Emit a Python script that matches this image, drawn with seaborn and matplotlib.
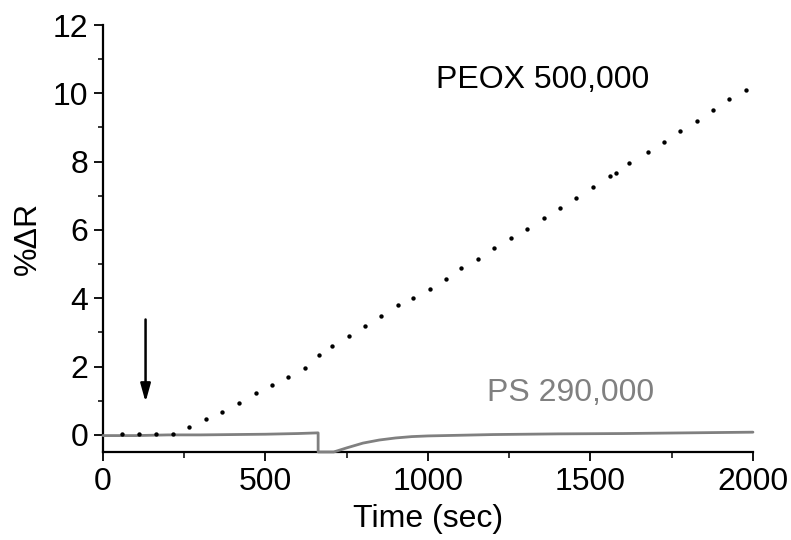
import numpy as np
import pandas as pd
import matplotlib
matplotlib.use("Agg")
import matplotlib.pyplot as plt
import seaborn as sns
from matplotlib.ticker import MultipleLocator

# PEOX 500,000 (dotted trace, seconds / %ΔR)
peox_time = [57, 112, 163, 214, 264, 317, 365, 417, 470, 519, 568, 622, 664,
             706, 757, 806, 857, 907, 954, 1006, 1057, 1102, 1153, 1204, 1255,
             1306, 1357, 1406, 1457, 1509, 1560, 1580, 1620, 1676, 1727, 1775,
             1827, 1878, 1926, 1980]
peox_value = [0.04, 0.03, 0.03, 0.04, 0.23, 0.47, 0.68, 0.94, 1.22, 1.46,
              1.70, 1.97, 2.33, 2.61, 2.89, 3.19, 3.48, 3.80, 4.01, 4.26,
              4.55, 4.90, 5.15, 5.46, 5.75, 6.02, 6.34, 6.63, 6.95, 7.26,
              7.58, 7.68, 7.96, 8.28, 8.58, 8.89, 9.19, 9.50, 9.82, 10.09]

# PS 290,000 (solid grey trace)
ps_time = [0, 100, 200, 300, 400, 500, 600, 662, 662, 710, 750, 800, 850,
           900, 950, 1000, 1100, 1200, 1400, 1600, 1800, 2000]
ps_value = [-0.02, -0.02, 0.0, 0.0, 0.01, 0.02, 0.04, 0.06, -0.5, -0.5, -0.38,
            -0.24, -0.15, -0.09, -0.05, -0.03, -0.01, 0.01, 0.03, 0.04, 0.06,
            0.08]

x_ticks = [0, 500, 1000, 1500, 2000]
y_ticks = [0, 2, 4, 6, 8, 10, 12]
injection_time = 131
arrow_top, arrow_tip = 3.46, 0.88

sns.set_theme(style="ticks")
plt.rcParams["font.family"] = ["Liberation Sans", "DejaVu Sans"]

fig = plt.figure(figsize=(7.91, 5.40), dpi=100)
ax = fig.add_axes([0.1302, 0.163, 0.8217, 0.7907])

ps_df = pd.DataFrame({"t": ps_time, "v": ps_value})
peox_df = pd.DataFrame({"t": peox_time, "v": peox_value})

sns.lineplot(data=ps_df, x="t", y="v", sort=False, estimator=None,
             color="#808080", linewidth=2.0, ax=ax, clip_on=False, zorder=3)
sns.scatterplot(data=peox_df, x="t", y="v", color="black", s=10,
                marker="o", linewidth=0, ax=ax, zorder=4)

ax.annotate("", xy=(injection_time, arrow_tip), xytext=(injection_time, arrow_top),
            arrowprops=dict(arrowstyle="-|>,head_length=0.9,head_width=0.25",
                            color="black", lw=1.8))

ax.text(1025, 10.38, "PEOX 500,000", fontsize=23, color="black",
        ha="left", va="center")
ax.text(1182, 1.23, "PS 290,000", fontsize=23, color="#808080",
        ha="left", va="center")

ax.set_xlim(0, 2000)
ax.set_ylim(-0.5, 12)
ax.set_xticks(x_ticks)
ax.set_yticks(y_ticks)
ax.xaxis.set_minor_locator(MultipleLocator(250))
ax.yaxis.set_minor_locator(MultipleLocator(1))
ax.set_xlabel("Time (sec)", fontsize=23, labelpad=5, color="black")
ax.set_ylabel("%ΔR", fontsize=23, labelpad=7, color="black")

sns.despine(ax=ax)
for sp in ("left", "bottom"):
    ax.spines[sp].set_linewidth(1.6)
    ax.spines[sp].set_color("black")
ax.tick_params(axis="both", which="major", length=6.5, width=1.3,
               labelsize=23, pad=4, color="black", labelcolor="black",
               direction="out")
ax.tick_params(axis="both", which="minor", length=3.5, width=1.1,
               color="black", direction="out")
ax.tick_params(axis="x", which="minor", length=4.5)

fig.savefig("out.png", dpi=100)
